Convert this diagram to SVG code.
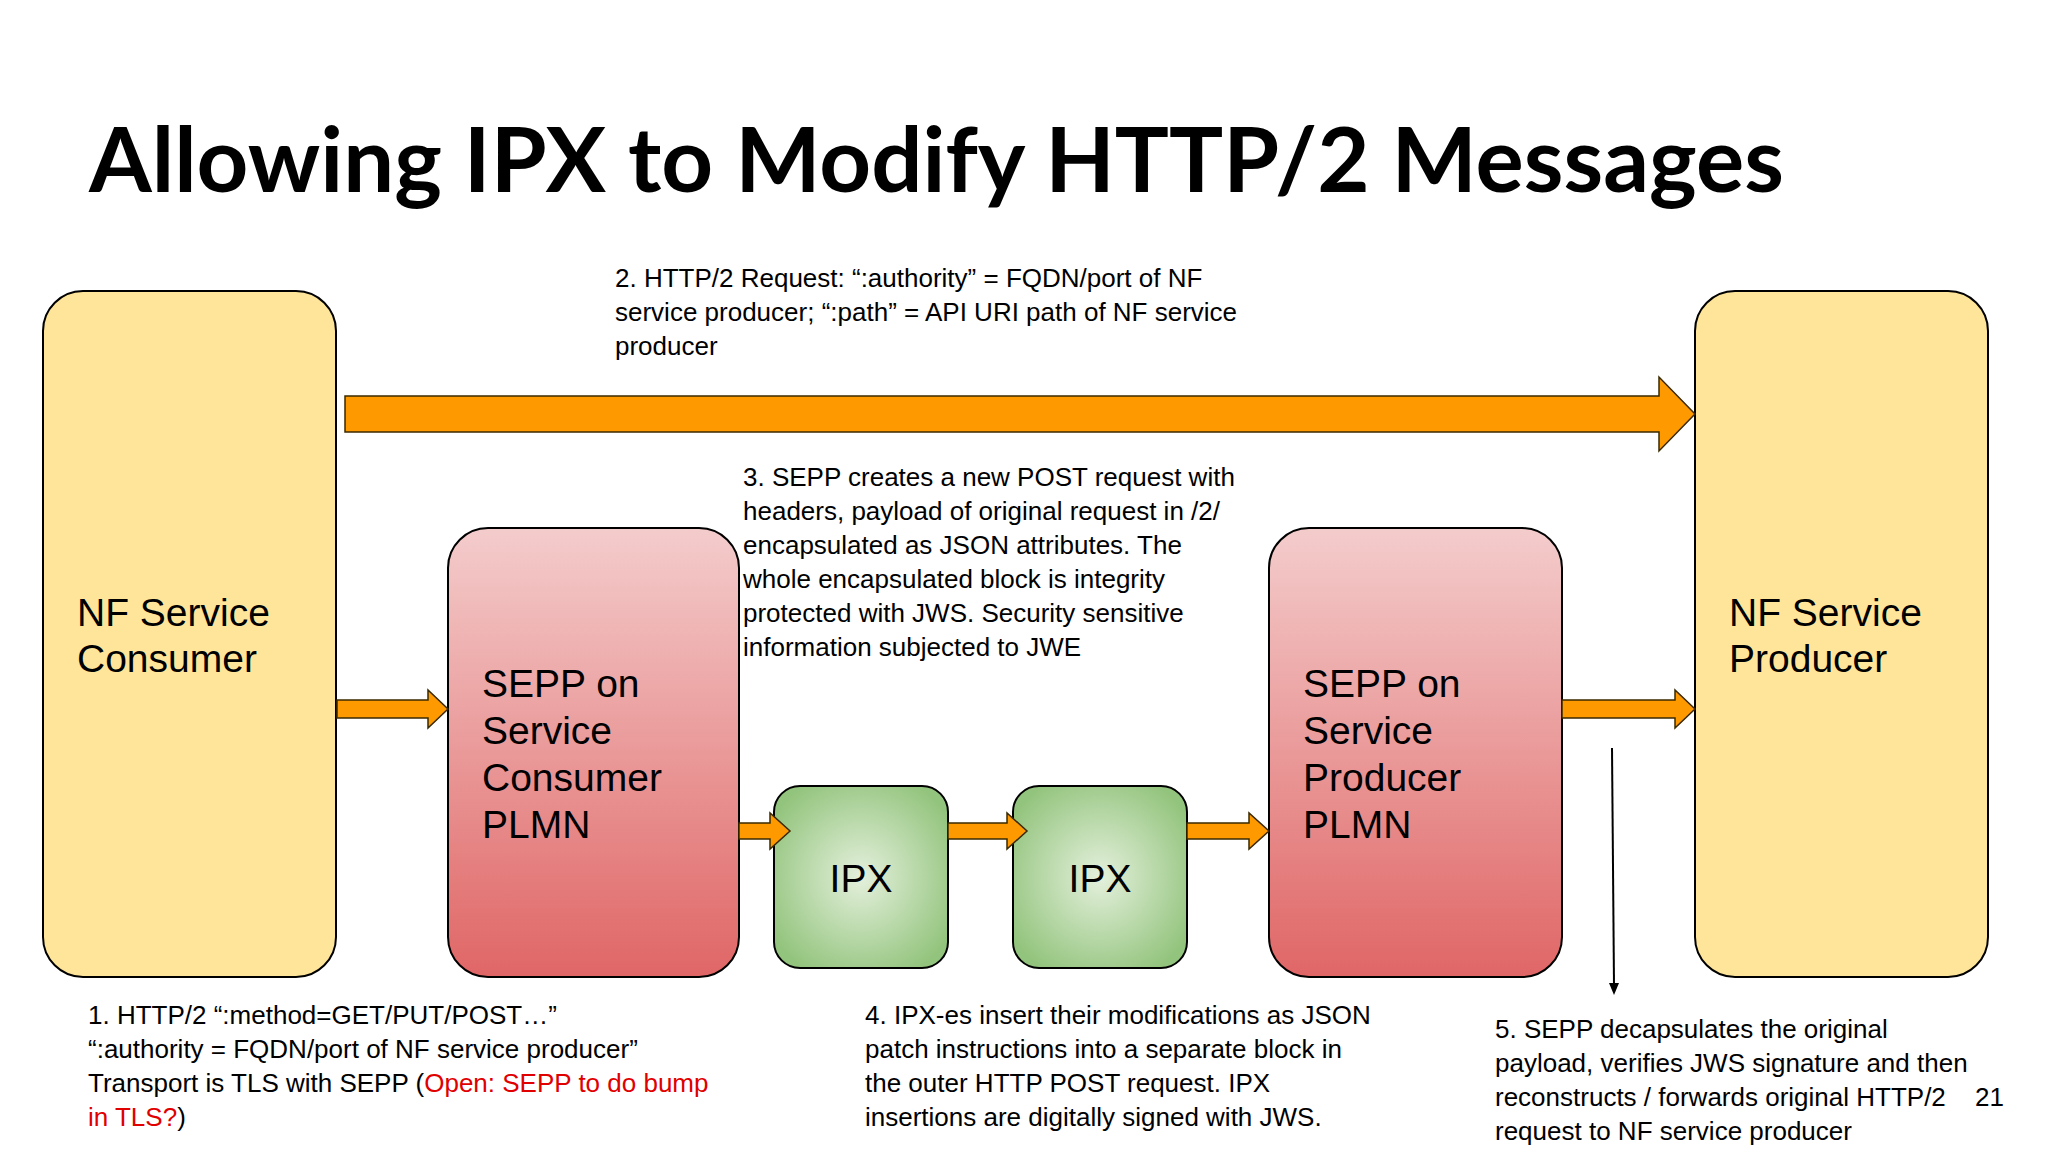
<svg xmlns="http://www.w3.org/2000/svg" width="2048" height="1152" viewBox="0 0 2048 1152">
<defs>
<linearGradient id="pink" x1="0" y1="0" x2="0" y2="1"><stop offset="0" stop-color="#f4cccc"/><stop offset="1" stop-color="#e06666"/></linearGradient>
<radialGradient id="green" cx="0.5" cy="0.5" r="0.6"><stop offset="0" stop-color="#e4f0dc"/><stop offset="1" stop-color="#93c47d"/></radialGradient>
<style>
.box{stroke:#000;stroke-width:2}
.y{fill:#ffe599}
.lbl{font-family:"Liberation Sans",Arial,sans-serif;font-size:39px;fill:#000}
.t{font-family:"Liberation Sans",Arial,sans-serif;font-size:26px;fill:#000}
.arr{fill:#ff9900;stroke:#3a2a00;stroke-width:1.5}
</style>
</defs>
<rect width="2048" height="1152" fill="#fff"/>
<text x="89" y="192" font-family="Lato,'Open Sans',sans-serif" font-weight="bold" font-size="90" fill="#000" textLength="1695" lengthAdjust="spacingAndGlyphs">Allowing IPX to Modify HTTP/2 Messages</text>
<g id="consumer"><rect class="box y" x="43" y="291" width="293" height="686" rx="40"/><text class="lbl" x="77" y="626">NF Service</text><text class="lbl" x="77" y="672">Consumer</text></g>
<g id="producer"><rect class="box y" x="1695" y="291" width="293" height="686" rx="40"/><text class="lbl" x="1729" y="626">NF Service</text><text class="lbl" x="1729" y="672">Producer</text></g>
<g id="sepp-c"><rect class="box" fill="url(#pink)" x="448" y="528" width="291" height="449" rx="40"/><text class="lbl" x="482" y="697">SEPP on</text><text class="lbl" x="482" y="744">Service</text><text class="lbl" x="482" y="791">Consumer</text><text class="lbl" x="482" y="838">PLMN</text></g>
<g id="sepp-p"><rect class="box" fill="url(#pink)" x="1269" y="528" width="293" height="449" rx="40"/><text class="lbl" x="1303" y="697">SEPP on</text><text class="lbl" x="1303" y="744">Service</text><text class="lbl" x="1303" y="791">Producer</text><text class="lbl" x="1303" y="838">PLMN</text></g>
<g id="ipx1"><rect class="box" fill="url(#green)" x="774" y="786" width="174" height="182" rx="26"/><text class="lbl" x="861" y="892" text-anchor="middle">IPX</text></g>
<g id="ipx2"><rect class="box" fill="url(#green)" x="1013" y="786" width="174" height="182" rx="26"/><text class="lbl" x="1100" y="892" text-anchor="middle">IPX</text></g>
<g id="connectors">
<polygon class="arr" points="345,396 1659,396 1659,377 1695,414 1659,451 1659,432 345,432"/>
<polygon class="arr" points="337,700 428,700 428,690 448,709 428,728 428,718 337,718"/>
<polygon class="arr" points="739,823 770,823 770,813 790,831 770,849 770,839 739,839"/>
<polygon class="arr" points="948,823 1007,823 1007,813 1027,831 1007,849 1007,839 948,839"/>
<polygon class="arr" points="1187,823 1249,823 1249,813 1269,831 1249,849 1249,839 1187,839"/>
<polygon class="arr" points="1562,700 1675,700 1675,690 1695,709 1675,728 1675,718 1562,718"/>
<line x1="1612" y1="748" x2="1614" y2="985" stroke="#000" stroke-width="2"/>
<polygon points="1609,983 1619,983 1614,995" fill="#000"/>
</g>
<g id="texts">
<text class="t" x="615" y="287">2. HTTP/2 Request: “:authority” = FQDN/port of NF</text>
<text class="t" x="615" y="321">service producer; “:path” = API URI path of NF service</text>
<text class="t" x="615" y="355">producer</text>
<text class="t" x="743" y="486">3. SEPP creates a new POST request with</text>
<text class="t" x="743" y="520">headers, payload of original request in /2/</text>
<text class="t" x="743" y="554">encapsulated as JSON attributes. The</text>
<text class="t" x="743" y="588">whole encapsulated block is integrity</text>
<text class="t" x="743" y="622">protected with JWS. Security sensitive</text>
<text class="t" x="743" y="656">information subjected to JWE</text>
<text class="t" x="88" y="1024">1. HTTP/2 “:method=GET/PUT/POST…”</text>
<text class="t" x="88" y="1058">“:authority = FQDN/port of NF service producer”</text>
<text class="t" x="88" y="1092">Transport is TLS with SEPP (<tspan fill="#e00000">Open: SEPP to do bump</tspan></text>
<text class="t" x="88" y="1126"><tspan fill="#e00000">in TLS?</tspan>)</text>
<text class="t" x="865" y="1024">4. IPX-es insert their modifications as JSON</text>
<text class="t" x="865" y="1058">patch instructions into a separate block in</text>
<text class="t" x="865" y="1092">the outer HTTP POST request. IPX</text>
<text class="t" x="865" y="1126">insertions are digitally signed with JWS.</text>
<text class="t" x="1495" y="1038">5. SEPP decapsulates the original</text>
<text class="t" x="1495" y="1072">payload, verifies JWS signature and then</text>
<text class="t" x="1495" y="1106">reconstructs / forwards original HTTP/2</text>
<text class="t" x="1495" y="1140">request to NF service producer</text>
<text class="t" x="1975" y="1106">21</text>
</g>
</svg>
